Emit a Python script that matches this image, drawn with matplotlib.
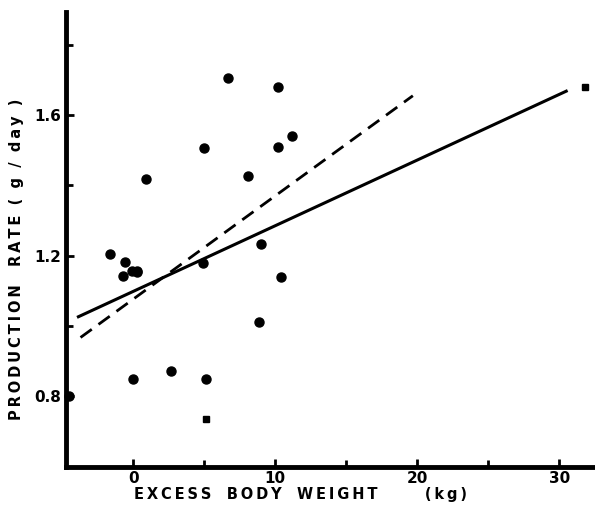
import numpy as np
import matplotlib.pyplot as plt

# excess body weight (kg) vs production rate (g/day)
dot_x = [-1.6, -0.6, -0.7, -0.1, 0.3, 0.3, 0.9, 6.7, 10.2, 5.0, 10.2, 11.2, 8.1,
         9.0, 4.9, 10.4, 8.9, 0.0, 2.7, 5.1, -4.5]
dot_y = [1.206, 1.183, 1.143, 1.157, 1.155, 1.152, 1.419, 1.706, 1.680, 1.506, 1.509,
         1.539, 1.428, 1.234, 1.180, 1.140, 1.012, 0.850, 0.873, 0.850, 0.800]
sq_x = [5.1, 31.8]
sq_y = [0.734, 1.680]

# fitted lines (end points)
solid_x = [-3.85, 30.5]
solid_y = [1.026, 1.668]
dash_x = [-3.7, 19.7]
dash_y = [0.967, 1.655]

xticks = [0, 10, 20, 30]
xminor = [5, 15, 25]
yticks = [0.8, 1.2, 1.6]
yminor = [1.0, 1.4, 1.8]


def spaced(words, gap):
    # wide letter tracking, the way the old typeset labels look
    return gap.join('\u2009'.join(w) for w in words)


fig = plt.figure(figsize=(5.95, 5.05), dpi=100)
ax = fig.add_axes([0.111, 0.075, 0.886, 0.901])

ax.plot(solid_x, solid_y, '-', color='black', lw=2.2)
ax.plot(dash_x, dash_y, '--', color='black', lw=2.0, dashes=(5, 3))
ax.plot(dot_x, dot_y, 'o', color='black', ms=6.5, clip_on=False)
ax.plot(sq_x, sq_y, 's', color='black', ms=5, clip_on=False)

ax.set_xlim(-4.72, 32.4)
ax.set_ylim(0.598, 1.893)

for s in ['top', 'right']:
    ax.spines[s].set_visible(False)
for s in ['left', 'bottom']:
    ax.spines[s].set_linewidth(3.5)

ax.set_xticks(xticks)
ax.set_xticks(xminor, minor=True)
ax.set_yticks(yticks)
ax.set_yticks(yminor, minor=True)
ax.set_xticklabels([str(t) for t in xticks])
ax.set_yticklabels([f'{t:.1f}' for t in yticks])

ax.tick_params(which='both', direction='in', width=2, color='black')
ax.tick_params(which='major', length=6)
ax.tick_params(which='minor', length=5)
ax.tick_params(axis='x', pad=3)
ax.tick_params(axis='y', pad=3.5)
for lab in ax.get_xticklabels() + ax.get_yticklabels():
    lab.set_fontweight('heavy')
    lab.set_fontsize(11)

ax.set_xlabel(spaced(['EXCESS', 'BODY', 'WEIGHT', '    (kg)'], '   '),
              fontsize=10.5, fontweight='heavy')
ax.set_ylabel(spaced(['PRODUCTION', ' RATE', '(', 'g', '/', 'day', ')'], '  '),
              fontsize=10.5, fontweight='heavy')
ax.xaxis.set_label_coords(0.444, -0.044)
ax.yaxis.set_label_coords(-0.08, 0.457)

plt.savefig('out.png', dpi=100)
